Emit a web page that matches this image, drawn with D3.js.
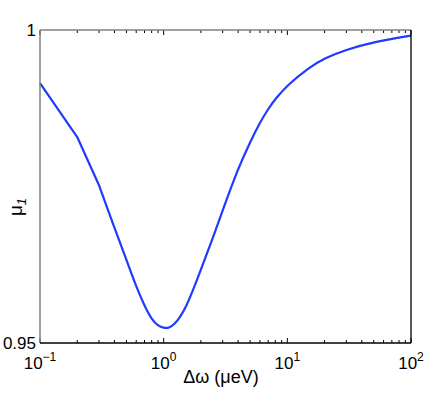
<!DOCTYPE html>
<html lang="en">
<head>
    <meta charset="UTF-8">
    <title>mu1 vs delta omega</title>
    <script src="https://d3js.org/d3.v7.min.js"></script>
</head>
<style>
    body { margin: 0; background: #fff; }
    text { font-family: "Liberation Sans", Arial, sans-serif; fill: #000; }
</style>
<body>
    <div id="chart"></div>
</body>
<script>
    // values (x in μeV, log scale)
    const dOmega = [0.1, 0.2, 0.3, 0.4, 0.5, 0.6, 0.7, 0.8, 0.9, 1.0, 1.1, 1.2, 1.5, 2, 2.5, 3, 4, 5, 6, 7, 8, 10, 15, 20, 30, 50, 100];
    const mu1 = [0.9915, 0.9829, 0.9752, 0.9684, 0.9633, 0.9590, 0.9559, 0.95376, 0.95275, 0.95238, 0.9524, 0.95275, 0.9552, 0.9617, 0.9668, 0.9712, 0.9779, 0.9821, 0.9852, 0.9874, 0.9890, 0.9912, 0.9940, 0.9955, 0.99685, 0.9981, 0.9991];
    const xTicks = [0.1, 1, 10, 100];
    const xTickExp = ["\u22121", "0", "1", "2"];
    const yTicks = [0.95, 1];
    const yTickLabels = ["0.95", "1"];

    const margin = { top: 30, right: 25, bottom: 54, left: 40 },
        width = 436 - margin.left - margin.right,
        height = 397 - margin.top - margin.bottom;

    const svg = d3.select("#chart")
        .append("svg")
        .attr("width", 436)
        .attr("height", 397)
        .append("g")
        .attr("transform", `translate(${margin.left}, ${margin.top})`);

    const x = d3.scaleLog().domain([0.1, 100]).range([0, width]);
    const y = d3.scaleLinear().domain([0.95, 1]).range([height, 0]);

    // minor + major log ticks (inward, top and bottom)
    const allX = [];
    for (let e = -1; e < 2; e++) {
        for (let m = 1; m < 10; m++) allX.push(m * Math.pow(10, e));
    }
    allX.push(100);
    const tickG = svg.append("g");
    allX.forEach(v => {
        const major = xTicks.some(t => Math.abs(t - v) < 1e-9);
        const len = major ? 5 : 3;
        tickG.append("line")
            .attr("x1", x(v)).attr("x2", x(v))
            .attr("y1", height).attr("y2", height - len)
            .attr("stroke", "#000").attr("stroke-width", 1);
        tickG.append("line")
            .attr("x1", x(v)).attr("x2", x(v))
            .attr("y1", 0).attr("y2", len)
            .attr("stroke", "#000").attr("stroke-width", 1);
    });

    // the curve: straight pieces at the coarse start, smooth afterwards
    const pts = dOmega.map((d, i) => [d, mu1[i]]);
    const straight = d3.line().x(d => x(d[0])).y(d => y(d[1]));
    const smooth = d3.line().x(d => x(d[0])).y(d => y(d[1])).curve(d3.curveBasis);
    svg.append("path")
        .attr("fill", "none")
        .attr("stroke", "#1f3bff")
        .attr("stroke-width", 2.2)
        .attr("stroke-linejoin", "round")
        .attr("d", straight(pts.slice(0, 3)) + smooth(pts.slice(2)));

    // box
    svg.append("line").attr("x1", 0).attr("x2", width).attr("y1", 0).attr("y2", 0)
        .attr("stroke", "#808080").attr("stroke-width", 1.3);
    svg.append("line").attr("x1", 0).attr("x2", 0).attr("y1", 0).attr("y2", height)
        .attr("stroke", "#808080").attr("stroke-width", 1.5);
    svg.append("line").attr("x1", 0).attr("x2", width).attr("y1", height).attr("y2", height)
        .attr("stroke", "#000").attr("stroke-width", 1.3);
    svg.append("line").attr("x1", width).attr("x2", width).attr("y1", 0).attr("y2", height)
        .attr("stroke", "#000").attr("stroke-width", 1.3);

    // x tick labels 10^n
    xTicks.forEach((t, i) => {
        const lab = svg.append("text")
            .attr("x", x(t))
            .attr("y", height + 26)
            .attr("text-anchor", "middle")
            .style("font-size", "17px");
        lab.append("tspan").text("10");
        lab.append("tspan")
            .attr("dy", -8)
            .style("font-size", "12px")
            .text(xTickExp[i]);
    });

    // y tick labels
    yTicks.forEach((t, i) => {
        svg.append("text")
            .attr("x", -4)
            .attr("y", y(t) + 6)
            .attr("text-anchor", "end")
            .style("font-size", "17px")
            .text(yTickLabels[i]);
    });

    // axis titles
    svg.append("text")
        .attr("x", 181)
        .attr("y", height + 40)
        .attr("text-anchor", "middle")
        .style("font-size", "18px")
        .text("\u0394\u03c9 (\u03bceV)");

    const yl = svg.append("text")
        .attr("transform", `translate(${-18}, ${177}) rotate(-90)`)
        .attr("text-anchor", "middle")
        .style("font-size", "19px");
    yl.append("tspan").text("\u03bc");
    yl.append("tspan")
        .attr("dy", 4)
        .style("font-size", "13px")
        .style("font-style", "italic")
        .text("1");
</script>
</html>
